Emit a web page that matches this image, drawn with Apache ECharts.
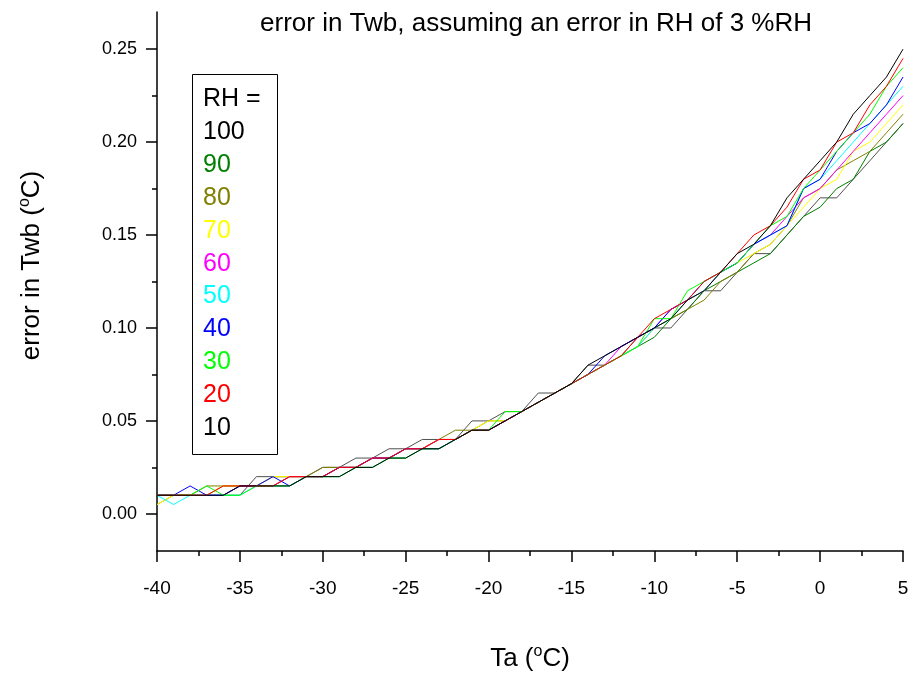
<!DOCTYPE html>
<html>
<head>
<meta charset="utf-8">
<script src="https://cdn.jsdelivr.net/npm/echarts@6/dist/echarts.min.js"></script>
<style>html,body{margin:0;padding:0;background:#fff}#c{width:915px;height:677px}</style>
</head>
<body>
<div id="c"></div>
<script>
// Air temperature Ta (°C)
const temps = [-40,-39,-38,-37,-36,-35,-34,-33,-32,-31,-30,-29,-28,-27,-26,-25,-24,-23,-22,-21,-20,-19,-18,-17,-16,-15,-14,-13,-12,-11,-10,-9,-8,-7,-6,-5,-4,-3,-2,-1,0,1,2,3,4,5];
// error in Twb (°C) per RH
const rh100 = [.010,.010,.010,.010,.010,.010,.020,.020,.020,.020,.025,.025,.030,.030,.035,.035,.040,.040,.040,.050,.050,.055,.055,.065,.065,.070,.080,.080,.085,.095,.100,.100,.110,.120,.120,.130,.140,.140,.150,.160,.170,.170,.180,.190,.200,.210];
const rh90  = [.010,.010,.010,.010,.015,.015,.015,.015,.020,.020,.020,.025,.025,.030,.030,.035,.035,.040,.040,.045,.045,.050,.055,.060,.065,.070,.075,.080,.085,.090,.095,.105,.110,.120,.125,.130,.135,.140,.150,.160,.165,.175,.180,.195,.200,.210];
const rh80  = [.005,.010,.010,.015,.015,.015,.015,.020,.020,.020,.025,.025,.025,.030,.030,.035,.035,.040,.045,.045,.050,.050,.055,.060,.065,.070,.075,.080,.085,.090,.100,.105,.110,.115,.125,.130,.140,.145,.155,.170,.175,.185,.190,.195,.205,.215];
const rh70  = [.005,.010,.010,.010,.015,.015,.015,.020,.020,.020,.020,.025,.025,.030,.030,.035,.035,.040,.040,.045,.050,.050,.055,.060,.065,.070,.075,.080,.085,.090,.100,.105,.115,.120,.130,.135,.140,.145,.155,.165,.175,.180,.195,.200,.210,.220];
const rh60  = [.010,.010,.010,.010,.010,.015,.015,.015,.020,.020,.020,.025,.025,.030,.030,.035,.035,.040,.040,.045,.045,.050,.055,.060,.065,.070,.075,.080,.090,.095,.100,.110,.115,.120,.130,.135,.145,.150,.160,.170,.175,.185,.195,.205,.215,.225];
const rh50  = [.010,.005,.010,.010,.010,.010,.015,.015,.015,.020,.020,.020,.025,.025,.030,.030,.035,.035,.040,.045,.045,.050,.055,.060,.065,.070,.075,.080,.085,.090,.100,.105,.115,.120,.130,.135,.145,.150,.155,.175,.180,.190,.200,.210,.220,.230];
const rh40  = [.010,.010,.015,.010,.010,.015,.015,.020,.015,.020,.020,.025,.025,.030,.030,.035,.035,.035,.040,.045,.045,.050,.055,.060,.065,.070,.075,.085,.090,.095,.100,.110,.115,.125,.130,.135,.145,.150,.155,.175,.180,.195,.205,.210,.220,.235];
const rh30  = [.010,.010,.010,.015,.010,.010,.015,.015,.015,.020,.020,.020,.025,.025,.030,.030,.035,.035,.040,.045,.045,.055,.055,.060,.065,.070,.075,.080,.085,.090,.105,.105,.120,.125,.130,.135,.145,.155,.160,.175,.185,.195,.205,.215,.230,.240];
const rh20  = [.010,.010,.010,.010,.015,.015,.015,.015,.020,.020,.020,.025,.025,.030,.030,.035,.035,.040,.040,.045,.045,.050,.055,.060,.065,.070,.075,.080,.085,.095,.105,.110,.115,.125,.130,.140,.150,.155,.165,.180,.185,.200,.205,.220,.230,.245];
const rh10  = [.010,.010,.010,.010,.010,.015,.015,.015,.015,.020,.020,.020,.025,.025,.030,.030,.035,.035,.040,.045,.045,.050,.055,.060,.065,.070,.080,.085,.090,.095,.100,.105,.115,.120,.130,.140,.145,.155,.170,.180,.190,.200,.215,.225,.235,.250];

const seriesNames = ['100','90','80','70','60','50','40','30','20','10'];
const seriesData = [rh100, rh90, rh80, rh70, rh60, rh50, rh40, rh30, rh20, rh10];
const lineColors = ['#505050','#008000','#808000','#ffff00','#ff00ff','#00ffff','#0000ff','#00ff00','#ff0000','#000000'];
const textColors = ['#000000','#008000','#808000','#ffff00','#ff00ff','#00ffff','#0000ff','#00ff00','#ff0000','#000000'];
const yTicks = [0,0.05,0.10,0.15,0.20,0.25];
const yMinorTicks = [0.025,0.075,0.125,0.175,0.225];

const FONT = 'Liberation Sans, Arial, sans-serif';
const chart = echarts.init(document.getElementById('c'));

const series = seriesNames.map((n, k) => ({
  name: n,
  type: 'line',
  xAxisIndex: 0,
  yAxisIndex: 0,
  showSymbol: false,
  symbol: 'none',
  lineStyle: { width: 1, color: lineColors[k] },
  itemStyle: { color: lineColors[k] },
  emphasis: { disabled: true },
  data: temps.map((t, i) => [t, seriesData[k][i]])
}));

const supRich = { sup: { fontSize: 16, fontFamily: FONT, color: '#000', padding: [0, 0, 14, 0] } };

chart.setOption({
  animation: false,
  backgroundColor: '#ffffff',
  textStyle: { fontFamily: FONT },
  title: {
    text: 'error in Twb, assuming an error in RH of 3 %RH',
    left: 531, top: 6, textAlign: 'center',
    textStyle: { fontFamily: FONT, fontSize: 26, fontWeight: 'normal', color: '#000' }
  },
  grid: { left: 157, right: 12, top: 12, bottom: 117, containLabel: false },
  legend: {
    orient: 'vertical',
    left: 198, top: 120,
    padding: 0,
    itemGap: 7.8,
    itemWidth: 0, itemHeight: 0,
    icon: 'none',
    selectedMode: false,
    textStyle: { fontFamily: FONT, fontSize: 25, lineHeight: 25 },
    data: seriesNames.map((n, k) => ({ name: n, icon: 'none', textStyle: { color: textColors[k] } }))
  },
  graphic: [
    { type: 'rect', left: 190, top: 72, shape: { width: 85, height: 380 }, style: { fill: 'none', stroke: '#000', lineWidth: 1 }, z: 100 },
    { type: 'text', left: 203, top: 87, style: { text: 'RH =', fontFamily: FONT, fontSize: 25, fill: '#000' }, z: 100 }
  ],
  xAxis: {
    type: 'value', min: -40, max: 5, interval: 5,
    name: 'Ta ({sup|o}C)', nameLocation: 'middle', nameGap: 93,
    nameTextStyle: { fontFamily: FONT, fontSize: 26, color: '#000', rich: supRich },
    axisLine: { show: true, onZero: false, lineStyle: { color: '#000', width: 1.5 } },
    axisTick: { show: true, inside: false, length: 11, lineStyle: { color: '#000', width: 1.5 } },
    minorTick: { show: true, splitNumber: 2, length: 5, lineStyle: { color: '#000', width: 1.5 } },
    axisLabel: { fontFamily: FONT, fontSize: 19, color: '#000', margin: 28 },
    splitLine: { show: false }, minorSplitLine: { show: false }
  },
  yAxis: [{
    type: 'value', min: -0.02, max: 0.27,
    name: 'error in Twb ({sup|o}C)', nameLocation: 'middle', nameGap: 110, nameRotate: 90,
    nameTextStyle: { fontFamily: FONT, fontSize: 26, color: '#000', rich: supRich, padding: [0, 0, 0, 32] },
    axisLine: { show: true, onZero: false, lineStyle: { color: '#000', width: 1.5 } },
    axisTick: { show: true, inside: false, length: 11, customValues: yTicks, lineStyle: { color: '#000', width: 1.5 } },
    axisLabel: { fontFamily: FONT, fontSize: 18, color: '#000', margin: 20, customValues: yTicks,
      formatter: v => v.toFixed(2) },
    splitLine: { show: false }
  }, {
    type: 'value', min: -0.02, max: 0.27, position: 'left',
    axisLine: { show: false, onZero: false },
    axisTick: { show: true, inside: false, length: 5, customValues: yMinorTicks, lineStyle: { color: '#000', width: 1.5 } },
    axisLabel: { show: false },
    splitLine: { show: false }
  }],
  series: series
});
</script>
</body>
</html>
